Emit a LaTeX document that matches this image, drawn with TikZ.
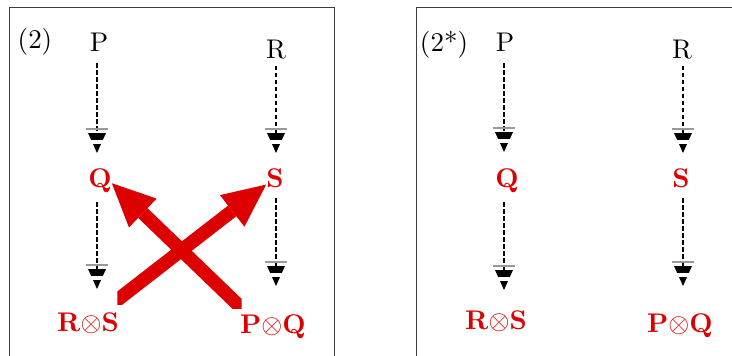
\documentclass[tikz,border=0pt]{standalone}
\usetikzlibrary{arrows.meta,backgrounds}
\definecolor{myred}{RGB}{221,0,0}
\definecolor{framecol}{RGB}{60,60,60}
\newcommand{\bigtxt}[1]{\scalebox{2.7}{#1}}
\tikzset{
  lbl/.style={font=\fontsize{10}{12}\selectfont, inner sep=0pt, anchor=base},
  rlbl/.style={font=\fontsize{10}{12}\selectfont\bfseries, text=myred, inner sep=0pt, anchor=base},
  frame/.style={draw=framecol, line width=1pt},
  dline/.style={black, line width=1.6pt, dash pattern=on 4.5pt off 2.5pt},
  bigarrow/.style={myred, line width=13.5pt, -{Triangle[length=43pt,width=40pt,line width=0pt]}},
  stripehead/.pic={
    \begin{scope}
      \clip (0,0) -- (-11,-24.5) -- (11,-24.5) -- cycle;
      \fill[black] (-12,-9) rectangle (12,0);
      \fill[black] (-12,-20) rectangle (12,-13);
    \end{scope}
    \fill[black!40] (-11,-24.8) rectangle (11,-23.3);
  }
}
\begin{document}
\begin{tikzpicture}[x=1pt,y=-1pt]
\useasboundingbox (0,0) rectangle (732,356);
% frames
\draw[frame] (9,362) -- (9,7) -- (334,7) -- (334,362);
\draw[frame] (416,362) -- (416,7) -- (740,7);

% ---------- left panel ----------
\node[lbl] (n2) at (35,48.3) {\bigtxt{(2)}};
\node[lbl] (P1) at (99,51.5) {\bigtxt{P}};
\node[lbl] (R1) at (276,58) {\bigtxt{R}};
\node[rlbl] (Q1) at (100,187) {\bigtxt{Q}};
\node[rlbl] (S1) at (275,187) {\bigtxt{S}};
\node[rlbl] (RS1) at (88,331) {\bigtxt{R$\otimes$S}};
\node[rlbl] (PQ1) at (273,333) {\bigtxt{P$\otimes$Q}};

\coordinate (a1) at (97,153);
\coordinate (b1) at (276,153);
\coordinate (c1) at (97,289);
\coordinate (d1) at (276,286);

\draw[dline, shorten <=11.5pt, shorten >=20pt] (P1.south -| a1) -- (a1);
\draw[dline, shorten <=7pt, shorten >=20pt] (R1.south -| b1) -- (b1);
\draw[dline, shorten <=10pt, shorten >=20pt] (Q1.south -| c1) -- (c1);
\draw[dline, shorten <=11pt, shorten >=20pt] (S1.south -| d1) -- (d1);
\pic at (a1) {stripehead};
\pic at (b1) {stripehead};
\pic at (c1) {stripehead};
\pic at (d1) {stripehead};

% clip corners of the two thick arrows
\coordinate (cutA) at (117.3,304);
\coordinate (cutB) at (241.7,308);
\begin{scope}[on background layer]
  \begin{scope}
    \clip (cutA) rectangle (334,7);
    \draw[bigarrow] (RS1.center) -- (S1);
  \end{scope}
  \begin{scope}
    \clip (cutB) rectangle (9,7);
    \draw[bigarrow] (PQ1.south) -- ([yshift=-3pt]Q1.east);
  \end{scope}
\end{scope}

% ---------- right panel ----------
\node[lbl] (n2s) at (444,51.7) {\bigtxt{(2*)}};
\node[lbl] (P2) at (505,51.5) {\bigtxt{P}};
\node[lbl] (R2) at (682,58) {\bigtxt{R}};
\node[rlbl] (Q2) at (507,187) {\bigtxt{Q}};
\node[rlbl] (S2) at (681,187) {\bigtxt{S}};
\node[rlbl] (RS2) at (496,329) {\bigtxt{R$\otimes$S}};
\node[rlbl] (PQ2) at (680,332) {\bigtxt{P$\otimes$Q}};

\coordinate (a2) at (504,152);
\coordinate (b2) at (683,153);
\coordinate (c2) at (504,290);
\coordinate (d2) at (683,286);

\draw[dline, shorten <=11.5pt, shorten >=20pt] (P2.south -| a2) -- (a2);
\draw[dline, shorten <=7pt, shorten >=20pt] (R2.south -| b2) -- (b2);
\draw[dline, shorten <=10pt, shorten >=20pt] (Q2.south -| c2) -- (c2);
\draw[dline, shorten <=11pt, shorten >=20pt] (S2.south -| d2) -- (d2);
\pic at (a2) {stripehead};
\pic at (b2) {stripehead};
\pic at (c2) {stripehead};
\pic at (d2) {stripehead};
\end{tikzpicture}
\end{document}
